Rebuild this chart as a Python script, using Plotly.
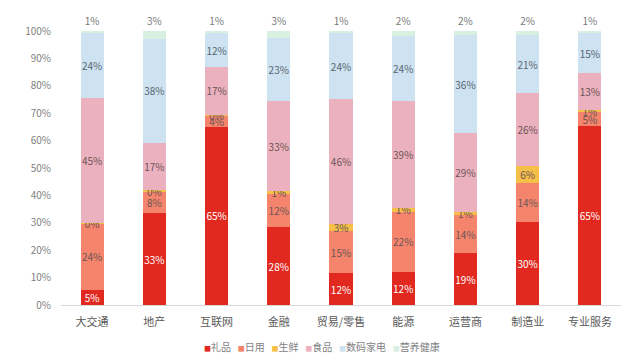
import plotly.graph_objects as go

categories = ["大交通", "地产", "互联网", "金融", "贸易/零售", "能源", "运营商", "制造业", "专业服务"]
series_names = ["礼品", "日用", "生鲜", "食品", "数码家电", "营养健康"]
gift = [5.4, 33.4, 65.0, 28.3, 11.6, 12.0, 18.9, 30.4, 65.2]
daily = [24.4, 8.2, 4.3, 12.2, 15.3, 22.1, 13.8, 14.2, 5.1]
fresh = [0.3, 0.3, 0.2, 1.0, 2.6, 1.2, 1.4, 6.3, 1.0]
food = [45.3, 17.4, 17.4, 33.0, 45.6, 39.1, 28.7, 26.3, 13.2]
digital = [23.9, 37.9, 12.3, 22.9, 24.2, 23.9, 35.6, 21.2, 14.6]
health = [0.7, 2.8, 0.8, 2.6, 0.7, 1.7, 1.6, 1.6, 0.9]
tick_vals = [0, 0.1, 0.2, 0.3, 0.4, 0.5, 0.6, 0.7, 0.8, 0.9, 1.0]
tick_text = ["0%", "10%", "20%", "30%", "40%", "50%", "60%", "70%", "80%", "90%", "100%"]

colors = ["#E1291F", "#F4856C", "#F6BF48", "#ECB1BE", "#CDE3F1", "#D8F0E0"]
text_colors = ["#FFFFFF", "#6B5555", "#6B5555", "#6B5555", "#5A6570", "#7A7A7A"]
data = [gift, daily, fresh, food, digital, health]

font_family = "Noto Sans CJK SC"
fig = go.Figure()
for i, (name, vals) in enumerate(zip(series_names, data)):
    y = [v / 100 for v in vals]
    labels = [f"{round(v):d}%" for v in vals]
    last = i == len(data) - 1
    fig.add_trace(go.Bar(
        x=categories, y=y, name=name,
        marker=dict(color=colors[i], line=dict(width=0)),
        text=labels,
        textposition="outside" if last else "inside",
        insidetextanchor="middle",
        textangle=0,
        constraintext="none",
        textfont=dict(color=text_colors[i], size=10, family=font_family),
        cliponaxis=False,
        hoverinfo="skip",
        showlegend=False,
    ))

legend_text = "   ".join(
    f"<span style='color:{c};font-size:7px'>■</span>{n}" for c, n in zip(colors, series_names)
)
fig.add_annotation(
    text=legend_text, xref="paper", yref="paper", x=0.466, y=-0.153,
    xanchor="center", yanchor="middle", showarrow=False,
    font=dict(size=10, color="#7F7F7F", family=font_family),
)

fig.update_layout(
    barmode="stack",
    bargap=0.63,
    width=629, height=356,
    margin=dict(l=53, r=16, t=23, b=59),
    paper_bgcolor="white", plot_bgcolor="white",
    font=dict(family=font_family, color="#7F7F7F", size=10),
    uniformtext=dict(minsize=10, mode="show"),
    xaxis=dict(showgrid=False, showline=True, linecolor="#D9D9D9", linewidth=1,
               ticks="", automargin=False, ticklabelstandoff=7,
               tickfont=dict(size=11, color="#595959", family=font_family)),
    yaxis=dict(range=[0, 1.0], tickvals=tick_vals, ticktext=tick_text, showgrid=False,
               showline=False, zeroline=False, ticks="", automargin=False, ticklabelstandoff=9,
               tickfont=dict(size=10, color="#7F7F7F", family=font_family)),
)

fig.write_html("out.html")
